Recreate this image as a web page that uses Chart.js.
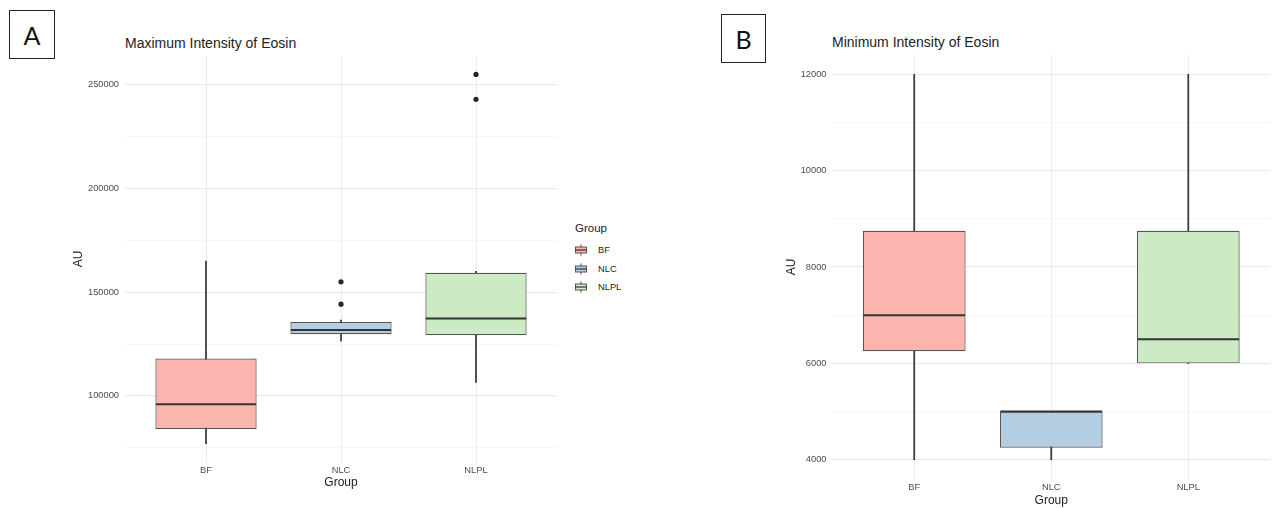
<!DOCTYPE html>
<html>
<head>
<meta charset="utf-8">
<title>Eosin intensity by group</title>
<script src="https://cdn.jsdelivr.net/npm/chart.js@4.4.1/dist/chart.umd.min.js"></script>
<style>
  html, body { margin: 0; padding: 0; background: #ffffff; }
  body { position: relative; width: 1275px; height: 508px; overflow: hidden;
         font-family: "Liberation Sans", Arial, Helvetica, sans-serif; }
  canvas { position: absolute; top: 0; }
  .tag { position: absolute; box-sizing: border-box; border: 1px solid #222;
         font-family: "Lato", "Liberation Sans", sans-serif; font-size: 25px; color: #111;
         display: flex; align-items: center; justify-content: center; }
  .title { position: absolute; font-size: 14px; line-height: 16px; color: #222; white-space: nowrap; }
  .legend { position: absolute; left: 575px; top: 220px; color: #222; }
  .legend .head { font-size: 11.5px; line-height: 16px; margin-bottom: 5px; }
  .legend .item { display: flex; align-items: center; height: 18.5px; font-size: 9.3px; }
  .legend svg { margin-right: 11px; }
</style>
</head>
<body>
<div class="tag" style="left:9px; top:10px; width:46px; height:49px;">A</div>
<div class="tag" style="left:721px; top:14px; width:45px; height:49px;">B</div>
<div class="title" style="left:125px; top:35px;">Maximum Intensity of Eosin</div>
<div class="title" style="left:832px; top:34px;">Minimum Intensity of Eosin</div>
<div class="legend" id="legend"></div>

<canvas id="chartMax" width="600" height="508" style="left:0; width:600px; height:508px;"></canvas>
<canvas id="chartMin" width="575" height="508" style="left:700px; width:575px; height:508px;"></canvas>

<script>
// Groups and their fills
const categories = ['BF', 'NLC', 'NLPL'];
const fillColors = ['#FBB4AE', '#B3CDE3', '#CCEBC5'];

// Maximum intensity of eosin (AU): box statistics per group
const maxLowerWhisker = [77000, 126500, 106500];
const maxQ1 = [84000, 129700, 129300];
const maxMedian = [96000, 131800, 137300];
const maxQ3 = [118000, 135600, 159400];
const maxUpperWhisker = [165000, 136500, 160000];
const maxOutlierGroups = ['NLC', 'NLC', 'NLPL', 'NLPL'];
const maxOutlierValues = [155000, 144200, 255000, 243000];
const maxTicks = [75000, 100000, 125000, 150000, 175000, 200000, 225000, 250000];
const maxTickLabels = [100000, 150000, 200000, 250000];
const maxRange = [68100, 263900];

// Minimum intensity of eosin (AU): box statistics per group
const minLowerWhisker = [4000, 4000, 6000];
const minQ1 = [6250, 4250, 6000];
const minMedian = [7000, 5000, 6500];
const minQ3 = [8750, 5000, 8750];
const minUpperWhisker = [12000, 5000, 12000];
const minOutlierGroups = [];
const minOutlierValues = [];
const minTicks = [4000, 5000, 6000, 7000, 8000, 9000, 10000, 11000, 12000];
const minTickLabels = [4000, 6000, 8000, 10000, 12000];
const minRange = [3600, 12400];

const FONT = '"Liberation Sans", Arial, Helvetica, sans-serif';
const groupPos = categories.map((c, i) => i + 1);

// Median lines drawn across each box, using the box element geometry
const medianPlugin = {
  id: 'medianLines',
  afterDatasetsDraw(chart, args, opts) {
    const meta = chart.getDatasetMeta(1);
    const yScale = chart.scales.y;
    const ctx = chart.ctx;
    ctx.save();
    ctx.strokeStyle = '#333333';
    ctx.lineWidth = 2;
    meta.data.forEach((bar, i) => {
      const py = yScale.getPixelForValue(opts.medians[i]);
      ctx.beginPath();
      ctx.moveTo(bar.x - bar.width / 2 + 0.5, py);
      ctx.lineTo(bar.x + bar.width / 2 - 0.5, py);
      ctx.stroke();
    });
    ctx.restore();
  }
};

function boxChart(id, s, g) {
  return new Chart(document.getElementById(id), {
    data: {
      datasets: [
        {
          type: 'bar', label: 'whisker',
          data: groupPos.map((x, i) => ({ x, y: [s.lo[i], s.hi[i]] })),
          backgroundColor: '#3a3a3a', barThickness: 1.1, grouped: false, order: 3
        },
        {
          type: 'bar', label: 'box',
          data: groupPos.map((x, i) => ({ x, y: [s.q1[i], s.q3[i]] })),
          backgroundColor: fillColors, borderColor: '#555555', borderWidth: 1.2,
          borderSkipped: false, grouped: false, categoryPercentage: 1, barPercentage: 0.75, order: 2
        },
        {
          type: 'line', label: 'outlier',
          data: s.outGroups.map((grp, i) => ({ x: categories.indexOf(grp) + 1, y: s.outValues[i] })),
          showLine: false, pointRadius: 2.6, pointHoverRadius: 2.6,
          pointBackgroundColor: '#262626', pointBorderWidth: 0, order: 1
        }
      ]
    },
    options: {
      responsive: false,
      animation: false,
      events: [],
      layout: { padding: g.padding },
      plugins: {
        legend: { display: false },
        tooltip: { enabled: false },
        medianLines: { medians: s.med }
      },
      scales: {
        x: {
          type: 'linear', min: 0.4, max: 3.6, offset: false,
          afterBuildTicks(scale) { scale.ticks = groupPos.map(v => ({ value: v })); },
          afterFit(scale) { scale.height = g.xHeight; },
          grid: { color: '#ebebeb', lineWidth: 1, drawTicks: false, offset: false },
          border: { display: false },
          ticks: {
            padding: 2.5, color: '#4d4d4d', font: { family: FONT, size: 9.3 },
            maxRotation: 0, autoSkip: false,
            callback: v => categories[v - 1]
          },
          title: {
            display: true, text: 'Group', color: '#222',
            font: { family: FONT, size: 12 }, padding: { top: 0, bottom: g.xTitlePad }
          }
        },
        y: {
          type: 'linear', min: s.range[0], max: s.range[1],
          afterBuildTicks(scale) { scale.ticks = s.ticks.map(v => ({ value: v })); },
          afterFit(scale) { scale.width = g.yWidth; },
          grid: {
            drawTicks: false,
            color: c => s.tickLabels.includes(c.tick.value) ? '#ebebeb' : '#f4f4f4',
            lineWidth: c => s.tickLabels.includes(c.tick.value) ? 1.2 : 0.8
          },
          border: { display: false },
          ticks: {
            padding: g.yTickPad, color: '#4d4d4d', font: { family: FONT, size: 9.3 },
            autoSkip: false,
            callback: v => s.tickLabels.includes(v) ? String(v) : ''
          },
          title: {
            display: true, text: 'AU', color: '#222',
            font: { family: FONT, size: 12 }, padding: { top: g.yTitlePad, bottom: 0 }
          }
        }
      }
    },
    plugins: [medianPlugin]
  });
}

boxChart('chartMax', {
  lo: maxLowerWhisker, q1: maxQ1, med: maxMedian, q3: maxQ3, hi: maxUpperWhisker,
  outGroups: maxOutlierGroups, outValues: maxOutlierValues,
  ticks: maxTicks, tickLabels: maxTickLabels, range: maxRange
}, { padding: { top: 56, right: 43, bottom: 0, left: 0 }, xHeight: 46, yWidth: 125,
     yTickPad: 6, yTitlePad: 71.8, xTitlePad: 17.8 });

boxChart('chartMin', {
  lo: minLowerWhisker, q1: minQ1, med: minMedian, q3: minQ3, hi: minUpperWhisker,
  outGroups: minOutlierGroups, outValues: minOutlierValues,
  ticks: minTicks, tickLabels: minTickLabels, range: minRange
}, { padding: { top: 55, right: 4.5, bottom: 0, left: 0 }, xHeight: 29, yWidth: 132,
     yTickPad: 5.5, yTitlePad: 84.5, xTitlePad: 0 });

// Legend for the maximum-intensity panel
const legend = document.getElementById('legend');
legend.innerHTML = '<div class="head">Group</div>' + categories.map((c, i) =>
  '<div class="item"><svg width="12" height="12" viewBox="0 0 12 12">' +
  '<line x1="6" y1="0.5" x2="6" y2="11.5" stroke="#444" stroke-width="1"/>' +
  '<rect x="0.5" y="3" width="11" height="6" fill="' + fillColors[i] + '" stroke="#555" stroke-width="1"/>' +
  '<line x1="0.5" y1="6" x2="11.5" y2="6" stroke="#333" stroke-width="1.2"/>' +
  '</svg>' + c + '</div>').join('');
</script>
</body>
</html>
